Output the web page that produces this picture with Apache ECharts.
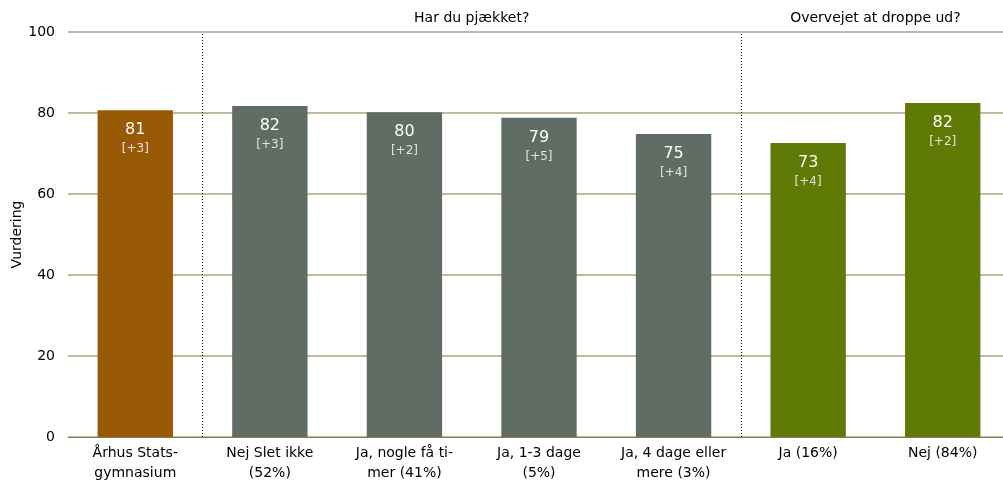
<!DOCTYPE html>
<html><head><meta charset="utf-8">
<script src="https://cdn.jsdelivr.net/npm/echarts@6/dist/echarts.min.js"></script>
<style>html,body{margin:0;padding:0;background:#fff}#c{width:1003px;height:481px}</style>
</head><body><div id="c"></div>
<script>
const categories = ["Århus Stats-\ngymnasium", "Nej Slet ikke\n(52%)", "Ja, nogle få ti-\nmer (41%)", "Ja, 1-3 dage\n(5%)", "Ja, 4 dage eller\nmere (3%)", "Ja (16%)", "Nej (84%)"];
const values = [80.7, 81.7, 80.2, 78.8, 74.8, 72.6, 82.5];
const valueLabels = ["81", "82", "80", "79", "75", "73", "82"];
const deltaLabels = ["[+3]", "[+3]", "[+2]", "[+5]", "[+4]", "[+4]", "[+2]"];
const groupNames = {3: "Har du pjækket?", 6: "Overvejet at droppe ud?"};
const groupDividers = [1, 5];
const barColors = ["#9a5a05", "#5f6d65", "#5f6d65", "#5f6d65", "#5f6d65", "#5f7a05", "#5f7a05"];

const font = "Tahoma, 'DejaVu Sans', sans-serif";
const chart = echarts.init(document.getElementById('c'));
chart.setOption({
  animation: false,
  textStyle: {fontFamily: font},
  grid: {left: 68, width: 942, top: 32, bottom: 44, containLabel: false, outerBoundsMode: 'none'},
  xAxis: [{
    type: 'category', data: categories,
    axisLine: {show: true, lineStyle: {color: '#8c7d52', width: 1}},
    axisTick: {show: false},
    axisLabel: {color: '#000', fontSize: 14, fontFamily: font, lineHeight: 20, margin: 6, interval: 0}
  }, {
    type: 'value', min: 0, max: 7, interval: 1, position: 'top',
    axisLine: {show: false}, axisTick: {show: false}, splitLine: {show: false},
    axisLabel: {show: true, color: '#000', fontSize: 14, fontFamily: font, margin: 7,
      formatter: v => groupNames[v] || ''}
  }],
  yAxis: {
    type: 'value', min: 0, max: 100, interval: 20,
    name: 'Vurdering', nameLocation: 'middle', nameGap: 44, nameMoveOverlap: false,
    nameTextStyle: {color: '#000', fontSize: 14, fontFamily: font},
    axisLine: {show: false}, axisTick: {show: false},
    axisLabel: {color: '#000', fontSize: 14, fontFamily: font, margin: 13},
    splitLine: {lineStyle: {color: '#c2b9a0', width: 2}}
  },
  series: [{
    type: 'bar', xAxisIndex: 0,
    data: values.map((v, i) => ({value: v, itemStyle: {color: barColors[i]}})),
    barWidth: '56%',
    label: {
      show: true, position: 'insideTop', distance: 10,
      formatter: p => '{v|' + valueLabels[p.dataIndex] + '}\n{d|' + deltaLabels[p.dataIndex] + '}',
      rich: {
        v: {color: '#fff', fontSize: 16, lineHeight: 20, fontFamily: font},
        d: {color: '#e4e2dc', fontSize: 12, lineHeight: 18, fontFamily: font}
      }
    }
  }, {
    type: 'line', xAxisIndex: 1, data: [],
    markLine: {
      silent: true, symbol: 'none', label: {show: false},
      lineStyle: {color: '#000', type: [1, 2], width: 1},
      data: groupDividers.map(x => ({xAxis: x}))
    }
  }]
});
</script></body></html>
